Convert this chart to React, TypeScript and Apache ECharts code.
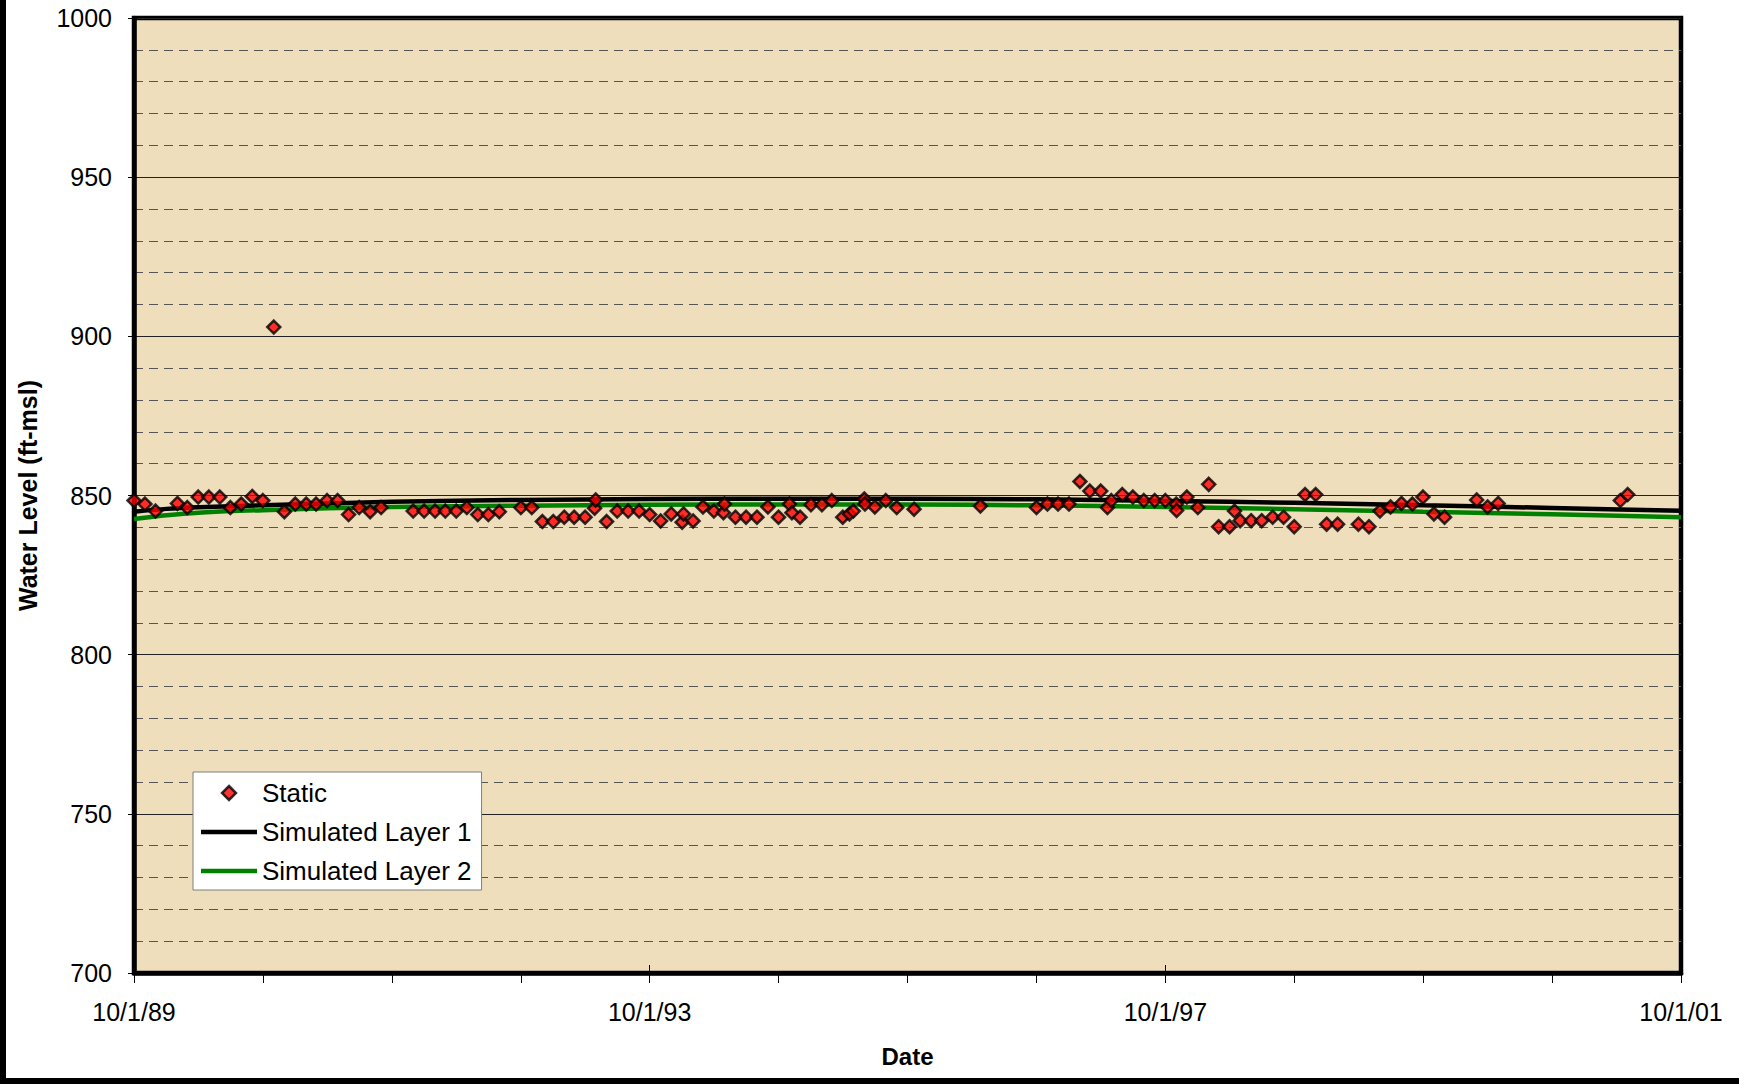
import React, { useEffect, useRef } from "react";
import * as echarts from "echarts";

const FONT = '"Liberation Sans", Arial, sans-serif';

const xTickLabels = ["10/1/89", "10/1/93", "10/1/97", "10/1/01"];

const staticDates = [
  "1989-10-01", "1989-11-01", "1989-12-01", "1990-02-01", "1990-03-01", "1990-04-01",
  "1990-05-01", "1990-06-01", "1990-07-01", "1990-08-01", "1990-09-01", "1990-10-01",
  "1990-11-01", "1990-12-01", "1991-01-01", "1991-02-01", "1991-03-01", "1991-04-01",
  "1991-05-01", "1991-06-01", "1991-07-01", "1991-08-01", "1991-09-01", "1991-12-01",
  "1992-01-01", "1992-02-01", "1992-03-01", "1992-04-01", "1992-05-01", "1992-06-01",
  "1992-07-01", "1992-08-01", "1992-10-01", "1992-11-01", "1992-12-01", "1993-01-01",
  "1993-02-01", "1993-03-01", "1993-04-01", "1993-04-28", "1993-05-01", "1993-06-01",
  "1993-07-01", "1993-08-01", "1993-09-01", "1993-10-01", "1993-11-01", "1993-12-01",
  "1994-01-01", "1994-01-05", "1994-02-01", "1994-03-01", "1994-04-01", "1994-04-28",
  "1994-05-01", "1994-06-01", "1994-07-01", "1994-08-01", "1994-09-01", "1994-10-01",
  "1994-11-01", "1994-11-08", "1994-12-01", "1995-01-01", "1995-02-01", "1995-03-01",
  "1995-04-01", "1995-04-20", "1995-05-01", "1995-06-01", "1995-06-03", "1995-07-01",
  "1995-08-01", "1995-09-01", "1995-10-20", "1996-04-25", "1996-10-01", "1996-11-01",
  "1996-12-01", "1997-01-01", "1997-02-01", "1997-03-01", "1997-04-01", "1997-04-20",
  "1997-05-01", "1997-06-01", "1997-07-01", "1997-08-01", "1997-09-01", "1997-10-01",
  "1997-11-01", "1997-11-02", "1997-12-01", "1998-01-01", "1998-02-01", "1998-03-01",
  "1998-04-01", "1998-04-15", "1998-05-01", "1998-06-01", "1998-07-01", "1998-08-01",
  "1998-09-01", "1998-10-01", "1998-11-01", "1998-12-01", "1999-01-01", "1999-02-01",
  "1999-04-01", "1999-05-01", "1999-06-01", "1999-07-01", "1999-08-01", "1999-09-01",
  "1999-10-01", "1999-11-01", "1999-12-01", "2000-03-01", "2000-04-01", "2000-05-01",
  "2001-04-12", "2001-05-03",
];

const staticLevels = [
  848.4, 847.3, 845.1, 847.5, 846.2, 849.5,
  849.5, 849.5, 846.2, 847.3, 849.7, 848.4,
  902.9, 844.9, 847.3, 847.3, 847.3, 848.4,
  848.4, 844.0, 846.2, 844.9, 846.2, 845.1,
  845.1, 845.1, 845.1, 845.1, 846.2, 844.0,
  844.0, 844.9, 846.2, 846.2, 841.8, 841.8,
  843.2, 843.2, 843.2, 846.0, 848.6, 841.8,
  845.1, 845.1, 845.1, 844.0, 842.0, 844.2,
  841.6, 844.2, 842.0, 846.4, 845.1, 844.6,
  847.3, 843.2, 843.2, 843.2, 846.4, 843.2,
  847.3, 844.6, 843.2, 847.1, 847.1, 848.4,
  843.2, 844.2, 845.1, 848.9, 847.3, 846.4,
  848.4, 846.2, 845.7, 846.7, 846.2, 847.3,
  847.3, 847.3, 854.4, 851.4, 851.4, 846.2,
  848.4, 850.3, 849.5, 848.4, 848.4, 848.4,
  847.3, 845.3, 849.5, 846.2, 853.5, 840.2,
  840.2, 845.1, 842.1, 842.1, 842.1, 843.2,
  843.2, 840.2, 850.3, 850.3, 841.0, 841.0,
  841.0, 840.2, 845.1, 846.4, 847.5, 847.3,
  849.5, 844.2, 843.2, 848.6, 846.4, 847.5,
  848.4, 850.3,
];

const simDates = [
  "1989-10-01", "1990-01-01", "1990-04-01", "1990-10-01", "1991-10-01", "1992-10-01",
  "1993-10-01", "1994-10-01", "1995-10-01", "1996-10-01", "1997-10-01", "1998-10-01",
  "1999-10-01", "2000-10-01", "2001-10-01",
];
const layer1Levels = [
  844.9, 845.8, 846.3, 846.9, 848.0, 848.6, 848.9, 849.0, 849.0, 848.8, 848.3, 847.7,
  846.9, 846.1, 845.2,
];
const layer2Levels = [
  842.6, 843.8, 844.6, 845.4, 846.4, 846.8, 847.1, 847.2, 847.2, 846.9, 846.4, 845.7,
  844.9, 844.1, 843.2,
];

const ORIGIN = Date.UTC(1989, 9, 1);
const DAY = 86400000;
const FOUR_YEARS = 1461;
const X_MAX = 3 * FOUR_YEARS;

function dayOffset(s: string): number {
  const [y, m, d] = s.split("-").map(Number);
  return (Date.UTC(y, m - 1, d) - ORIGIN) / DAY;
}

const DIAMOND_ICON = "path://M7,0 L14,7 L7,14 L0,7 Z";
const LINE_ICON = "path://M0,0 L56,0 L56,4.5 L0,4.5 Z";

export default function App() {
  const ref = useRef<HTMLDivElement>(null);

  useEffect(() => {
    document.body.style.margin = "0";
    if (!ref.current) return;
    const chart = echarts.init(ref.current, undefined, { renderer: "svg" });

    const xBase = {
      type: "value" as const,
      min: 0,
      max: X_MAX,
      interval: FOUR_YEARS,
      splitLine: { show: false },
    };

    chart.setOption({
      animation: false,
      textStyle: { fontFamily: FONT },
      grid: {
        left: 134,
        right: 58,
        top: 18,
        bottom: 111,
        show: true,
        backgroundColor: "#EEDEBC",
        borderColor: "#000",
        borderWidth: 4.5,
      },
      legend: {
        orient: "vertical",
        left: 193,
        top: 772,
        symbolKeepAspect: true,
        data: [
          { name: "Static", icon: DIAMOND_ICON, itemStyle: { color: "#FF0000", borderColor: "#000", borderWidth: 2.5 } },
          { name: "Simulated Layer 1", icon: LINE_ICON, itemStyle: { color: "#000", borderWidth: 0 } },
          { name: "Simulated Layer 2", icon: LINE_ICON, itemStyle: { color: "#008000", borderWidth: 0 } },
        ],
        itemWidth: 56,
        itemHeight: 14,
        itemGap: 13,
        padding: [8, 10, 6, 8],
        backgroundColor: "#ffffff",
        borderColor: "#7f7f7f",
        borderWidth: 1,
        textStyle: { fontSize: 26, color: "#000", fontFamily: FONT },
      },
      xAxis: [
        {
          ...xBase,
          name: "Date",
          nameLocation: "middle",
          nameGap: 71,
          nameTextStyle: { fontSize: 24, fontWeight: "bold", color: "#000", fontFamily: FONT },
          axisLine: { show: true, lineStyle: { color: "#000", width: 4.5 } },
          axisTick: { show: true, length: 10, lineStyle: { color: "#000", width: 1 } },
          minorTick: { show: true, splitNumber: 4, length: 10, lineStyle: { color: "#000", width: 1 } },
          axisLabel: {
            fontSize: 25,
            color: "#000",
            fontFamily: FONT,
            margin: 26,
            formatter: (v: number) => xTickLabels[Math.round(v / FOUR_YEARS)] ?? "",
          },
        },
        {
          ...xBase,
          position: "bottom",
          axisLine: { show: false },
          axisLabel: { show: false },
          axisTick: { show: true, inside: true, length: 8, lineStyle: { color: "#000", width: 1 } },
        },
      ],
      yAxis: {
        type: "value",
        min: 700,
        max: 1000,
        interval: 50,
        name: "Water Level (ft-msl)",
        nameLocation: "middle",
        nameGap: 94,
        nameTextStyle: { fontSize: 25, fontWeight: "bold", color: "#000", fontFamily: FONT },
        axisLine: { show: true, lineStyle: { color: "#000", width: 4.5 } },
        axisTick: { show: true, length: 6, lineStyle: { color: "#000", width: 1 } },
        axisLabel: {
          fontSize: 25,
          color: "#000",
          fontFamily: FONT,
          margin: 22,
          formatter: (v: number) => String(v),
        },
        splitLine: { show: true, lineStyle: { color: "#222", width: 1 } },
        minorTick: { show: false, splitNumber: 5 },
        minorSplitLine: { show: true, lineStyle: { color: "#555", width: 1, type: [9, 6] } },
      },
      series: [
        {
          name: "Simulated Layer 2",
          type: "line",
          data: simDates.map((d, i) => [dayOffset(d), layer2Levels[i]]),
          symbol: "none",
          smooth: 0.3,
          lineStyle: { color: "#008000", width: 4.5 },
          itemStyle: { color: "#008000" },
          z: 2,
        },
        {
          name: "Simulated Layer 1",
          type: "line",
          data: simDates.map((d, i) => [dayOffset(d), layer1Levels[i]]),
          symbol: "none",
          smooth: 0.3,
          lineStyle: { color: "#000", width: 4.5 },
          itemStyle: { color: "#000" },
          z: 2,
        },
        {
          name: "Static",
          type: "scatter",
          data: staticDates.map((d, i) => [dayOffset(d), staticLevels[i]]),
          symbol: "diamond",
          symbolSize: 13,
          clip: false,
          itemStyle: { color: "#FF0000", borderColor: "#000", borderWidth: 2.5 },
          z: 3,
        },
      ],
      graphic: [
        { type: "rect", shape: { x: 0, y: 0, width: 6, height: 1084 }, style: { fill: "#000" } },
        { type: "rect", shape: { x: 0, y: 1078, width: 1739, height: 6 }, style: { fill: "#000" } },
      ],
    });

    return () => chart.dispose();
  }, []);

  return <div ref={ref} style={{ width: 1739, height: 1084 }} />;
}
